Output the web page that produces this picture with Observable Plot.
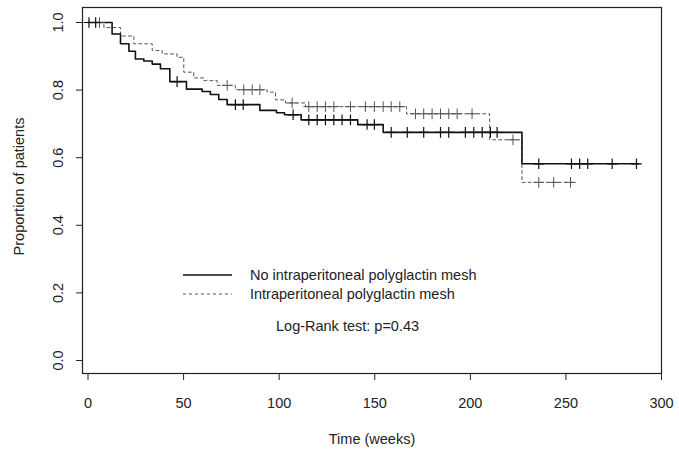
<!DOCTYPE html>
<html><head><meta charset="utf-8">
<script src="https://cdn.jsdelivr.net/npm/d3@7"></script>
<script src="https://cdn.jsdelivr.net/npm/@observablehq/plot@0.6"></script>
<style>
body{margin:0;background:#fff;}
#wrap{position:relative;width:679px;height:451px;font-family:"Liberation Sans",Arial,sans-serif;color:#222;}
#wrap svg.plot{position:absolute;left:0;top:0;}
.leg{position:absolute;font-size:14.5px;white-space:nowrap;line-height:1;}
</style></head><body><div id="wrap"></div>
<script>
// Group 1: no intraperitoneal polyglactin mesh (solid)
const noMeshTimes = [0, 12.6, 17, 21.4, 24.8, 29.2, 33.6, 37.9, 42.8, 51.5, 59.7, 64, 68.4, 72.8, 89.9, 98.6, 102.8, 111.5, 141.1, 154.4, 227, 288];
const noMeshSurv  = [1.0, 0.966, 0.937, 0.915, 0.892, 0.886, 0.877, 0.863, 0.825, 0.803, 0.796, 0.787, 0.772, 0.757, 0.740, 0.733, 0.727, 0.712, 0.698, 0.675, 0.582, 0.582];
const noMeshCensored = [0.5, 4, 46.6, 77.1, 81.2, 107.3, 115.5, 119.9, 124.2, 128.6, 132.9, 137.3, 146, 149.8, 158.6, 167, 175.6, 184.4, 188.7, 197.4, 201.8, 206.2, 210.5, 214, 235.8, 252.9, 257.2, 261.4, 274.2, 286.9];
// Group 2: intraperitoneal polyglactin mesh (dashed)
const meshTimes = [0, 8.3, 17, 24, 33.6, 38.8, 46.6, 50.1, 55.3, 60.6, 67.6, 77.1, 93.7, 98.1, 103.3, 113.8, 166.6, 210.1, 227, 253.8];
const meshSurv  = [1.0, 0.985, 0.96, 0.937, 0.917, 0.907, 0.897, 0.853, 0.836, 0.828, 0.814, 0.801, 0.794, 0.771, 0.762, 0.751, 0.730, 0.653, 0.527, 0.527];
const meshCensored = [6, 72.8, 81.5, 85.9, 89.9, 106.8, 115.5, 119.9, 124.2, 128.6, 137.3, 145.1, 149.8, 154.4, 158.6, 163.1, 171.3, 175.6, 180, 184.4, 188.7, 193.1, 200.9, 222.3, 235.8, 243.6, 252.4];

const seriesNames = ["No intraperitoneal polyglactin mesh", "Intraperitoneal polyglactin mesh"];
const testLabel = "Log-Rank test: p=0.43";
const xTicks = [0, 50, 100, 150, 200, 250, 300];
const yTicks = [0.0, 0.2, 0.4, 0.6, 0.8, 1.0];
const xLabel = "Time (weeks)";
const yLabel = "Proportion of patients";

function steps(times, surv) { return times.map((t, i) => ({t, s: surv[i]})); }
function survAt(times, surv, t) { let v = surv[0]; for (let i = 0; i < times.length; i++) if (times[i] <= t) v = surv[i]; return v; }
const solidLine = steps(noMeshTimes, noMeshSurv);
const dashLine = steps(meshTimes, meshSurv);
const solidCens = noMeshCensored.map(t => ({t, s: survAt(noMeshTimes, noMeshSurv, t)}));
const dashCens = meshCensored.map(t => ({t, s: survAt(meshTimes, meshSurv, t)}));

const FONT = 14.5;
const plot = Plot.plot({
  width: 679, height: 451,
  marginLeft: 82, marginRight: 18, marginTop: 7, marginBottom: 78,
  style: {fontFamily: '"Liberation Sans", Arial, sans-serif', fontSize: FONT + "px", color: "#222", background: "white"},
  x: {domain: [-2.88, 300]},
  y: {domain: [-0.0385, 1.0444]},
  marks: [
    Plot.frame({stroke: "#222", strokeWidth: 1.2}),
    Plot.axisX({ticks: xTicks, tickSize: 7, tickPadding: 17, tickFormat: d => String(d), label: null, stroke: "#222", fontSize: FONT}),
    Plot.axisY({ticks: yTicks, tickSize: 6, tickFormat: () => "", label: null, stroke: "#222"}),
    Plot.text(yTicks, {y: d => d, text: d => d.toFixed(1), frameAnchor: "left", textAnchor: "middle", lineAnchor: "middle", dx: -24.5, rotate: -90, fontSize: FONT, fill: "#222"}),
    Plot.text([xLabel], {text: d => d, frameAnchor: "bottom", textAnchor: "middle", dy: 70, fontSize: FONT, fill: "#222"}),
    Plot.text([yLabel], {text: d => d, frameAnchor: "left", textAnchor: "middle", lineAnchor: "middle", dx: -63, dy: -4, rotate: -90, fontSize: FONT, fill: "#222"}),
    Plot.line(dashLine, {x: "t", y: "s", curve: "step-after", stroke: "#555", strokeWidth: 1, strokeDasharray: "3,3"}),
    Plot.line(solidLine, {x: "t", y: "s", curve: "step-after", stroke: "#111", strokeWidth: 1.6}),
    Plot.dot(dashCens, {x: "t", y: "s", symbol: "plus", r: 3.5, stroke: "#555", strokeWidth: 1}),
    Plot.dot(solidCens, {x: "t", y: "s", symbol: "plus", r: 3.5, stroke: "#111", strokeWidth: 1.2})
  ]
});
plot.classList.add("plot");
const wrap = document.getElementById("wrap");
wrap.appendChild(plot);

// legend overlay
function addLegendLine(top, dash, color, w) {
  const ns = "http://www.w3.org/2000/svg";
  const s = document.createElementNS(ns, "svg");
  s.setAttribute("width", 52); s.setAttribute("height", 6);
  s.style.position = "absolute"; s.style.left = "183px"; s.style.top = (top - 3) + "px";
  const l = document.createElementNS(ns, "line");
  l.setAttribute("x1", 0); l.setAttribute("x2", 49); l.setAttribute("y1", 3); l.setAttribute("y2", 3);
  l.setAttribute("stroke", color); l.setAttribute("stroke-width", w);
  if (dash) l.setAttribute("stroke-dasharray", dash);
  s.appendChild(l); wrap.appendChild(s);
}
function addText(txt, left, top) {
  const d = document.createElement("div"); d.className = "leg"; d.textContent = txt;
  d.style.left = left + "px"; d.style.top = top + "px"; wrap.appendChild(d);
}
addLegendLine(275, null, "#111", 1.3);
addLegendLine(294, "3,3", "#555", 1);
addText(seriesNames[0], 250, 268);
addText(seriesNames[1], 250, 287);
addText(testLabel, 276, 319);
</script>
</body></html>
